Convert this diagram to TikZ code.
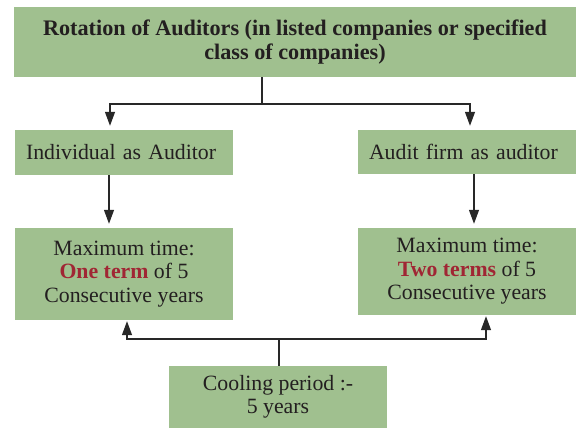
\documentclass[tikz,border=0pt]{standalone}
\usepackage{fontspec}
\setmainfont{Liberation Serif}
\usetikzlibrary{arrows.meta}
\definecolor{boxgreen}{RGB}{160,192,143}
\definecolor{inkdark}{RGB}{35,31,32}
\definecolor{termred}{RGB}{160,38,52}
\definecolor{linegray}{RGB}{40,40,40}
\tikzset{
  box/.style={rectangle, fill=boxgreen, text=inkdark, inner sep=0pt,
    minimum width=218pt, align=center,
    font=\fontsize{21.8}{23.5}\selectfont},
  leftbox/.style={box, align=left, text width=196pt, inner xsep=11pt},
  conn/.style={draw=linegray, line width=1.2pt},
  arr/.style={conn, -{Triangle[width=10pt,length=14pt]}},
}
\newcommand{\hl}[1]{\textcolor{termred}{\textbf{#1}}}
\begin{document}
\begin{tikzpicture}[x=1pt,y=-1pt]
\useasboundingbox (0,0) rectangle (578,430);

% boxes
\node[box, minimum width=562pt, minimum height=70pt,
      font=\bfseries\fontsize{22.2}{24.5}\selectfont] (title) at (295,42)
  {Rotation of Auditors (in listed companies or specified\\class of companies)};
\node[leftbox, minimum height=45pt] (indiv) at (124,152.5) {Individual as Auditor};
\node[leftbox, minimum height=44pt] (firm) at (467,152) {Audit firm as auditor};
\node[box, minimum height=92pt] (maxl) at (124,274)
  {Maximum time:\\\hl{One term} of 5\\Consecutive years};
\node[box, minimum height=87pt] (maxr) at (467,271.5)
  {Maximum time:\\\hl{Two terms} of 5\\Consecutive years};
\node[box, minimum height=62pt] (cool) at (278,397)
  {Cooling period :-\\5 years};

% junction points of the connectors
\coordinate (split) at (262,104);
\coordinate (lx) at (110,0);
\coordinate (rx) at (470,0);
\coordinate (ldown) at (109,0);
\coordinate (rdown) at (474,0);
\coordinate (join) at (279,339);
\coordinate (lup) at (127,0);
\coordinate (rup) at (486,0);

% from the heading to both kinds of auditor
\draw[conn] (title.south -| split) -- (split);
\draw[arr, shorten >=4pt] (split) -| (indiv.north -| lx);
\draw[arr, shorten >=4pt] (split) -| (firm.north -| rx);

% auditor to maximum term
\draw[arr, shorten >=4pt] (indiv.south -| ldown) -- (maxl.north -| ldown);
\draw[arr, shorten >=4pt] (firm.south -| rdown) -- (maxr.north -| rdown);

% cooling period back to both terms
\draw[conn] (cool.north -| join) -- (join);
\draw[arr, shorten >=1pt] (join) -| (maxl.south -| lup);
\draw[arr, shorten >=1pt] (join) -| (maxr.south -| rup);
\end{tikzpicture}
\end{document}
